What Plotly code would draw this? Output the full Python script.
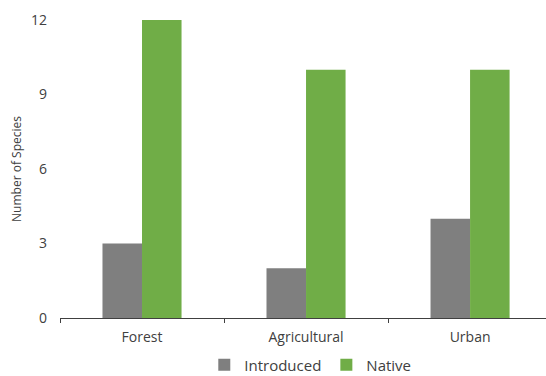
import plotly.graph_objects as go

# Species counts by habitat type
habitats = ["Forest", "Agricultural", "Urban"]
introduced = [3, 2, 4]
native = [12, 10, 10]
y_ticks = [0, 3, 6, 9, 12]

FONT = "'Open Sans', Carlito, Calibri, sans-serif"
TEXT = "#404040"

fig = go.Figure()
fig.add_trace(go.Bar(name="Introduced", x=habitats, y=introduced,
                     marker=dict(color="#7F7F7F", line=dict(width=0))))
fig.add_trace(go.Bar(name="Native", x=habitats, y=native,
                     marker=dict(color="#70AD47", line=dict(width=0))))

fig.update_layout(
    width=546, height=376,
    margin=dict(l=60, r=0, t=20, b=58, autoexpand=False),
    paper_bgcolor="white", plot_bgcolor="white",
    barmode="group", bargap=0.518, bargroupgap=0,
    font=dict(family=FONT, size=13, color=TEXT),
    showlegend=True,
    legend=dict(orientation="h", x=0.515, xanchor="center",
                y=-0.158, yanchor="middle",
                bgcolor="rgba(0,0,0,0)", borderwidth=0,
                font=dict(size=15, color=TEXT), itemwidth=30,
                traceorder="normal"),
    xaxis=dict(
        type="category", range=[-0.5, 2.463],
        showline=True, linecolor="#404040", linewidth=1,
        ticks="outside", tickson="boundaries", ticklen=4, tickcolor="#404040",
        showgrid=False, zeroline=False,
        tickfont=dict(size=14, color=TEXT), ticklabelstandoff=6,
    ),
    yaxis=dict(
        range=[0, 12], tickvals=y_ticks, showline=False, showgrid=False,
        zeroline=False, ticks="", ticklabelstandoff=12,
        tickfont=dict(size=14, color=TEXT),
        title=dict(text="Number of Species", font=dict(size=12, color=TEXT), standoff=6),
    ),
)

fig.write_html("out.html")
